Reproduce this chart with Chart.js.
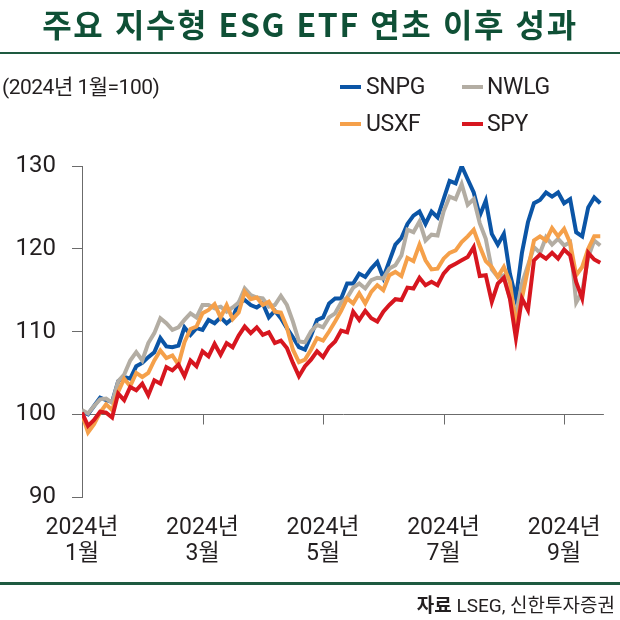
<!DOCTYPE html>
<html lang="ko">
<head>
<meta charset="utf-8">
<script src="https://cdn.jsdelivr.net/npm/chart.js@4.4.1/dist/chart.umd.min.js"></script>
<style>
  html, body { margin: 0; padding: 0; background: #fff; }
  #wrap { position: relative; width: 620px; height: 620px; overflow: hidden;
          font-family: Roboto, "Noto Sans CJK KR", sans-serif; color: #231f20; }
  #chart { position: absolute; left: 0; top: 0; }
  #title { position: absolute; left: 0; top: 1px; width: 620px; text-align: center;
           font-family: "Noto Sans CJK KR", sans-serif; font-weight: 700; font-size: 32px;
           line-height: 44px; color: #0f5036; letter-spacing: 1.6px; }
  .rule { position: absolute; left: 0; width: 620px; height: 2px; background: #1e5a40; }
  #sub { position: absolute; left: 2px; top: 74px; font-size: 21px; line-height: 26px; letter-spacing: -0.5px; }
  .sw { position: absolute; width: 21px; height: 4px; }
  .lg { position: absolute; font-size: 23px; line-height: 26px; letter-spacing: -0.3px; }
  #src { position: absolute; right: 5px; top: 592px; font-size: 19px; line-height: 24px; }
  #src b { font-family: "Noto Sans CJK KR", sans-serif; font-weight: 700; }
</style>
</head>
<body>
<div id="wrap">
  <canvas id="chart" width="620" height="620"></canvas>
  <div id="title">주요 지수형 ESG ETF 연초 이후 성과</div>
  <div class="rule" style="top:52px"></div>
  <div id="sub">(2024년 1월=100)</div>
  <div class="sw" style="left:340px;top:85px;background:#0b55a6"></div>
  <div class="lg" style="left:366px;top:74px">SNPG</div>
  <div class="sw" style="left:462px;top:85px;background:#b3ada3"></div>
  <div class="lg" style="left:487px;top:74px">NWLG</div>
  <div class="sw" style="left:340px;top:122px;background:#f5a04a"></div>
  <div class="lg" style="left:366px;top:111px">USXF</div>
  <div class="sw" style="left:462px;top:122px;background:#d7161f"></div>
  <div class="lg" style="left:487px;top:111px">SPY</div>
  <div class="rule" style="top:582px;height:3px"></div>
  <div id="src"><b>자료</b> LSEG, 신한투자증권</div>
</div>
<script>
// index values, 2024 Jan = 100 (roughly every 3 trading days)
const snpg = [100.3, 100.0, 101.0, 102.0, 101.7, 101.5, 104.0, 104.5, 104.3, 105.8,
  106.2, 106.9, 107.5, 109.2, 108.2, 108.1, 108.3, 110.5, 109.6, 110.4,
  110.2, 111.4, 111.0, 111.7, 111.0, 111.6, 113.5, 113.8, 113.2, 112.9,
  113.4, 111.7, 112.5, 111.6, 110.4, 109.3, 108.1, 107.8, 109.5, 111.4,
  111.7, 113.4, 114.0, 114.0, 115.8, 115.8, 117.0, 116.6, 117.6, 118.4,
  116.5, 118.5, 120.5, 121.3, 123.0, 124.0, 124.5, 123.0, 124.5, 123.8,
  126.0, 128.2, 127.9, 130.0, 128.4, 126.8, 124.0, 125.8, 121.8, 120.5,
  121.8, 117.0, 114.0, 119.5, 123.2, 125.5, 125.9, 126.8, 126.3, 126.8,
  125.5, 126.0, 122.0, 121.5, 125.0, 126.2, 125.5];
const nwlg = [100.5, 100.1, 101.0, 101.8, 101.9, 101.4, 104.0, 104.8, 106.5, 107.5,
  106.5, 108.6, 109.8, 111.6, 111.0, 110.2, 110.5, 111.4, 112.2, 111.7,
  113.2, 113.2, 112.8, 113.0, 112.4, 112.9, 113.5, 115.2, 114.4, 114.1,
  114.0, 113.0, 113.2, 114.3, 113.2, 111.2, 108.8, 108.7, 110.0, 110.8,
  110.5, 111.7, 112.2, 113.5, 114.1, 115.3, 115.8, 115.2, 116.2, 116.5,
  116.4, 117.6, 118.0, 119.2, 122.3, 122.0, 123.3, 121.0, 121.7, 121.6,
  124.5, 126.3, 126.0, 127.8, 125.3, 126.0, 123.1, 121.2, 117.5, 116.6,
  116.8, 114.0, 112.0, 115.8, 118.0, 120.2, 119.5, 121.4, 120.5, 121.2,
  120.4, 120.8, 113.5, 114.8, 119.0, 121.0, 120.4];
const usxf = [100.0, 97.8, 98.8, 100.2, 101.2, 100.5, 102.7, 104.3, 103.4, 105.0,
  104.5, 105.0, 106.5, 107.7, 106.8, 107.1, 106.0, 108.7, 110.3, 110.6,
  112.2, 112.6, 113.3, 111.7, 113.2, 111.5, 112.3, 114.8, 113.9, 114.1,
  113.2, 113.6, 112.4, 112.3, 110.5, 107.8, 106.3, 106.6, 107.8, 109.2,
  108.9, 110.0, 111.2, 112.5, 114.0, 113.4, 114.6, 113.4, 114.8, 115.6,
  115.0, 116.8, 117.2, 116.7, 118.9, 118.5, 120.5, 118.6, 117.5, 117.6,
  118.8, 119.5, 119.8, 120.8, 121.5, 122.3, 120.3, 118.5, 117.8, 116.6,
  117.8, 116.0, 110.8, 114.0, 117.5, 121.0, 121.5, 121.0, 122.5, 121.5,
  122.4, 120.7, 116.8, 117.8, 120.0, 121.5, 121.5];
const spy = [100.2, 98.6, 99.3, 100.3, 100.2, 99.6, 102.5, 101.7, 103.3, 102.9,
  103.7, 102.3, 104.1, 103.7, 105.7, 105.3, 106.0, 104.6, 106.5, 105.8,
  107.6, 107.0, 108.5, 107.2, 108.6, 108.1, 109.5, 110.6, 109.8, 110.5,
  109.6, 109.9, 108.6, 108.9, 108.0, 106.2, 104.6, 105.8, 106.6, 107.6,
  106.9, 108.1, 108.8, 110.1, 109.9, 112.4, 111.4, 112.5, 111.6, 111.2,
  112.4, 113.2, 113.9, 113.8, 115.3, 115.2, 116.5, 115.6, 116.0, 115.6,
  117.0, 117.8, 118.2, 118.6, 119.0, 120.2, 116.7, 116.8, 113.6, 115.8,
  116.5, 114.0, 109.2, 114.0, 112.6, 118.6, 119.3, 118.8, 119.5, 118.8,
  119.9, 119.2, 116.0, 114.0, 119.5, 118.7, 118.3];

const xTicks = [0, 20, 40, 60, 80];
const xTickLabels = [["2024년", "1월"], ["2024년", "3월"], ["2024년", "5월"], ["2024년", "7월"], ["2024년", "9월"]];
const yTicks = [90, 100, 110, 120, 130];

const tickFont = "Roboto, 'Noto Sans CJK KR', sans-serif";

// small downward tick marks sitting on the 100 line
const baseTicks = {
  id: 'baseTicks',
  beforeDatasetsDraw(chart) {
    const { ctx, scales: { x, y } } = chart;
    const y0 = Math.round(y.getPixelForValue(100)) + 0.5;
    ctx.save();
    ctx.strokeStyle = '#6b6b6b';
    ctx.lineWidth = 1;
    xTicks.slice(1).forEach(v => {
      const px = Math.round(x.getPixelForValue(v)) + 0.5;
      ctx.beginPath();
      ctx.moveTo(px, y0);
      ctx.lineTo(px, y0 + 10);
      ctx.stroke();
    });
    ctx.restore();
  }
};

function series(data, color, order) {
  return {
    data: data.map((v, i) => ({ x: i, y: v })),
    borderColor: color,
    borderWidth: 4,
    pointRadius: 0,
    tension: 0,
    fill: false,
    order: order
  };
}

new Chart(document.getElementById('chart'), {
  type: 'line',
  data: {
    datasets: [
      series(spy, '#d7161f', 1),
      series(usxf, '#f5a04a', 2),
      series(nwlg, '#b3ada3', 3),
      series(snpg, '#0b55a6', 4)
    ]
  },
  options: {
    responsive: false,
    animation: false,
    layout: { padding: { top: 166, right: 6, left: 0, bottom: 0 } },
    plugins: { legend: { display: false }, tooltip: { enabled: false } },
    scales: {
      x: {
        type: 'linear',
        min: 0,
        max: 86.6,
        afterBuildTicks: s => { s.ticks = xTicks.map(v => ({ value: v })); },
        afterFit: s => { s.height = 123; },
        border: { display: false },
        grid: { display: false, drawTicks: false },
        ticks: {
          autoSkip: false,
          maxRotation: 0,
          padding: 19,
          color: '#231f20',
          font: { family: tickFont, size: 23, lineHeight: 1.1 },
          callback: v => xTickLabels[xTicks.indexOf(v)]
        }
      },
      y: {
        min: 90,
        max: 130,
        afterBuildTicks: s => { s.ticks = yTicks.map(v => ({ value: v })); },
        afterFit: s => { s.width = 82; },
        border: { display: true, color: '#6b6b6b', width: 1 },
        grid: {
          color: c => (c.tick && c.tick.value === 100 ? '#6b6b6b' : 'rgba(0,0,0,0)'),
          tickColor: '#6b6b6b',
          tickLength: 10,
          lineWidth: 1
        },
        ticks: {
          padding: 16,
          color: '#231f20',
          font: { family: tickFont, size: 24 }
        }
      }
    }
  },
  plugins: [baseTicks]
});
</script>
</body>
</html>
